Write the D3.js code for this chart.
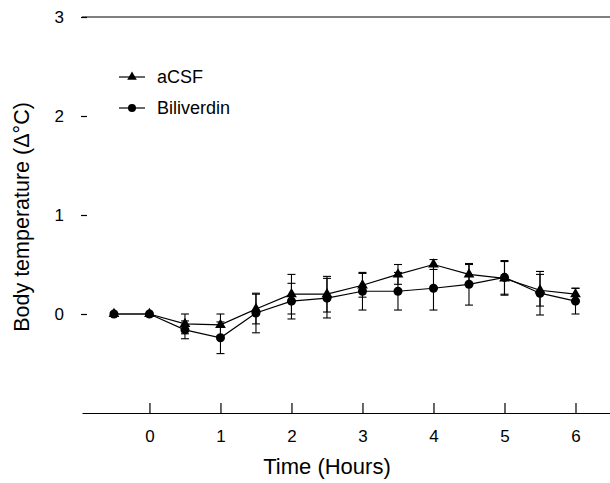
<!DOCTYPE html>
<html><head><meta charset="utf-8">
<script src="https://cdn.jsdelivr.net/npm/d3@7"></script>
<style>
html,body{margin:0;padding:0;background:#fff;}
text{font-family:"Liberation Sans",Arial,sans-serif;fill:#000;}
</style></head>
<body>
<svg id="chart" width="610" height="483"></svg>
<script>
const times = [-0.5, 0, 0.5, 1, 1.5, 2, 2.5, 3, 3.5, 4, 4.5, 5, 5.5, 6];
const acsf = [0, 0, -0.10, -0.11, 0.05, 0.20, 0.20, 0.29, 0.40, 0.50, 0.40, 0.36, 0.24, 0.20];
const acsfErr = [0, 0, 0.10, 0.11, 0.15, 0.20, 0.18, 0.12, 0.10, 0.05, 0.10, 0.17, 0.16, 0.06];
const bili = [0, 0, -0.16, -0.24, 0.01, 0.13, 0.16, 0.23, 0.23, 0.26, 0.30, 0.37, 0.21, 0.13];
const biliErr = [0, 0, 0.09, 0.16, 0.20, 0.18, 0.20, 0.19, 0.19, 0.22, 0.21, 0.17, 0.22, 0.13];
const xTicks = [0, 1, 2, 3, 4, 5, 6];
const yTicks = [0, 1, 2, 3];
const seriesNames = ["aCSF", "Biliverdin"];

const svg = d3.select("#chart");
const x = d3.scaleLinear().domain([-0.95, 6.5]).range([82, 611]);
const y = d3.scaleLinear().domain([-1, 3]).range([413, 17]);

// x axis
const xAxis = svg.append("g").attr("transform", `translate(0,${y(-1)})`)
  .call(d3.axisBottom(x).tickValues(xTicks).tickFormat(d3.format("d")).tickSizeInner(-10).tickSizeOuter(0).tickPadding(17));
xAxis.select(".domain").attr("stroke", "#000").attr("stroke-width", 1.2);
xAxis.selectAll(".tick line").attr("stroke", "#000").attr("stroke-width", 1.2);
xAxis.selectAll(".tick text").style("font-size", "17px").attr("font-family", null);

// y axis (ticks only)
const yAxis = svg.append("g").attr("transform", `translate(${x(-0.95) + 5},0)`)
  .call(d3.axisLeft(y).tickValues(yTicks).tickFormat(d3.format("d")).tickSize(6).tickPadding(17));
yAxis.select(".domain").remove();
yAxis.selectAll(".tick line").attr("stroke", "#000").attr("stroke-width", 1.2);
yAxis.selectAll(".tick text").style("font-size", "17px").attr("font-family", null);

// top line at y=3
svg.append("line").attr("x1", x(-0.95)).attr("x2", x(6.5)).attr("y1", y(3)).attr("y2", y(3))
  .attr("stroke", "#000").attr("stroke-width", 1.2);

// titles
svg.append("text").attr("x", x(2.5)).attr("y", 474).attr("text-anchor", "middle")
  .style("font-size", "22px").text("Time (Hours)");
svg.append("text").attr("transform", `translate(29,${y(1) + 2}) rotate(-90)`).attr("text-anchor", "middle")
  .style("font-size", "21.5px").text("Body temperature (Δ°C)");

const series = [
  {name: seriesNames[0], vals: acsf, err: acsfErr, sym: d3.symbolTriangle},
  {name: seriesNames[1], vals: bili, err: biliErr, sym: d3.symbolCircle}
];

const line = d3.line().x(d => x(d.t)).y(d => y(d.v));
const cap = 4;

series.forEach(s => {
  const pts = times.map((t, i) => ({t, v: s.vals[i], e: s.err[i]}));
  const g = svg.append("g");
  g.append("path").datum(pts).attr("d", line).attr("fill", "none").attr("stroke", "#000").attr("stroke-width", 1.2);
  const eb = g.selectAll(".eb").data(pts.filter(d => d.e > 0)).enter().append("g");
  eb.append("line").attr("x1", d => x(d.t)).attr("x2", d => x(d.t))
    .attr("y1", d => y(d.v + d.e)).attr("y2", d => y(d.v - d.e)).attr("stroke", "#000").attr("stroke-width", 1.1);
  eb.append("line").attr("x1", d => x(d.t) - cap).attr("x2", d => x(d.t) + cap)
    .attr("y1", d => y(d.v + d.e)).attr("y2", d => y(d.v + d.e)).attr("stroke", "#000").attr("stroke-width", 1.1);
  eb.append("line").attr("x1", d => x(d.t) - cap).attr("x2", d => x(d.t) + cap)
    .attr("y1", d => y(d.v - d.e)).attr("y2", d => y(d.v - d.e)).attr("stroke", "#000").attr("stroke-width", 1.1);
  g.selectAll(".m").data(pts).enter().append("path")
    .attr("transform", d => `translate(${x(d.t)},${y(d.v)})`)
    .attr("d", d3.symbol().type(s.sym).size(s.sym === d3.symbolCircle ? 64 : 50)).attr("fill", "#000");
});

// legend
const leg = svg.append("g");
series.forEach((s, i) => {
  const ly = 77 + i * 31;
  leg.append("line").attr("x1", 119).attr("x2", 145).attr("y1", ly).attr("y2", ly).attr("stroke", "#000").attr("stroke-width", 1.2);
  leg.append("path").attr("transform", `translate(132,${ly})`)
    .attr("d", d3.symbol().type(s.sym).size(s.sym === d3.symbolCircle ? 50 : 40)).attr("fill", "#000");
  leg.append("text").attr("x", 157).attr("y", ly + 6).style("font-size", "18px").text(s.name);
});
</script>
</body></html>
